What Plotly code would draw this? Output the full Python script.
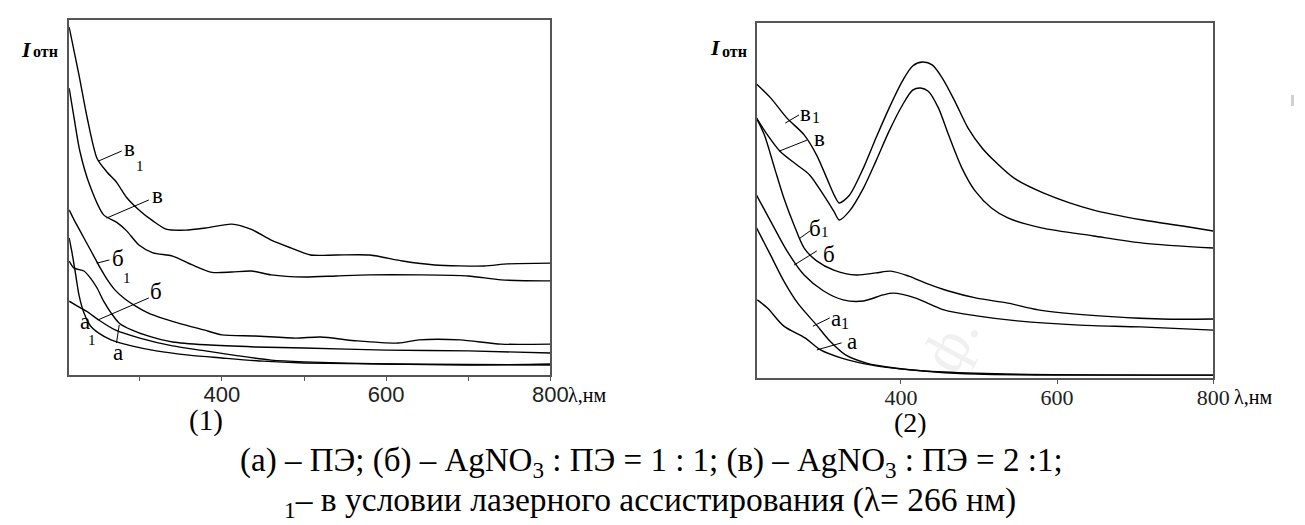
import plotly.graph_objects as go

# ---------------- Panel (1) : wavelength (nm) / relative intensity ----------------
L_v1_wl = [214, 226, 236, 248, 260, 272, 284, 299, 316, 332, 356, 380, 412, 436, 460, 484, 508, 539, 580, 620, 659, 719, 748, 800]
L_v1_I = [98.0, 84.5, 72.4, 61.0, 57.2, 54.2, 50.0, 46.5, 43.4, 41.1, 40.8, 41.4, 42.5, 41.0, 38.0, 35.8, 33.8, 33.8, 33.8, 32.1, 31.0, 30.7, 31.3, 31.5]

L_v_wl = [214, 220, 227, 239, 256, 272, 284, 299, 316, 340, 364, 388, 412, 436, 460, 500, 539, 580, 640, 700, 740, 800]
L_v_I = [80.8, 72.4, 63.1, 53.5, 45.1, 43.0, 40.6, 36.6, 34.4, 33.5, 31.0, 28.9, 29.0, 29.3, 28.2, 27.6, 27.9, 28.2, 28.2, 27.9, 26.8, 26.5]

L_b1_wl = [214, 220, 228, 236, 244, 252, 260, 270, 282, 295, 310, 330, 350, 378, 400, 440, 490, 520, 565, 615, 640, 690, 740, 800]
L_b1_I = [46.5, 43.7, 40.3, 36.9, 33.5, 30.1, 27.0, 23.9, 21.4, 19.4, 17.5, 15.8, 14.4, 12.7, 11.3, 11.0, 10.4, 10.7, 9.6, 9.0, 9.9, 9.9, 8.7, 8.7]

L_b_wl = [214, 220, 232, 240, 248, 256, 265, 275, 290, 310, 340, 380, 440, 500, 600, 700, 800]
L_b_I = [32.1, 30.1, 29.3, 27.3, 24.5, 20.8, 17.5, 14.6, 12.7, 11.0, 9.3, 8.5, 7.9, 7.6, 7.0, 6.8, 6.2]

L_a1_wl = [214, 218, 222, 226, 232, 240, 250, 265, 290, 320, 360, 400, 450, 500, 600, 800]
L_a1_I = [38.6, 33.8, 28.2, 22.5, 17.5, 13.8, 11.8, 9.9, 8.2, 6.8, 5.6, 4.8, 3.9, 3.4, 3.1, 2.8]

L_a_wl = [214, 222, 235, 250, 270, 300, 340, 380, 420, 460, 500, 600, 700, 800]
L_a_I = [20.8, 19.7, 18.0, 15.5, 12.7, 10.4, 8.2, 6.8, 5.4, 4.2, 3.7, 3.1, 2.8, 3.1]

# ---------------- Panel (2) ----------------
R_v1_wl = [215, 233, 254, 276, 292, 305, 315, 321, 334, 352, 368, 385, 402, 415, 428, 440, 453, 469, 486, 504, 520, 545, 583, 647, 710, 761, 800]
R_v1_I = [82.8, 78.9, 73.2, 68.5, 62.8, 56.3, 51.3, 49.3, 51.5, 59.2, 67.6, 76.1, 83.7, 87.9, 89.0, 88.2, 84.5, 78.0, 70.4, 64.8, 61.1, 56.3, 52.1, 47.3, 44.5, 42.8, 41.4]

R_v_wl = [215, 229, 245, 267, 283, 301, 314, 321, 334, 352, 368, 385, 402, 415, 425, 435, 448, 461, 478, 495, 516, 537, 580, 647, 710, 800]
R_v_I = [73.2, 68.5, 63.9, 60.0, 57.2, 51.5, 47.0, 44.5, 47.0, 53.5, 61.1, 69.6, 76.9, 81.1, 81.7, 80.8, 76.1, 68.5, 59.2, 52.7, 47.9, 45.1, 42.3, 40.0, 38.0, 36.6]

R_b1_wl = [215, 225, 238, 250, 263, 276, 292, 314, 343, 368, 387, 410, 431, 461, 497, 537, 576, 654, 734, 800]
R_b1_I = [73.2, 68.5, 59.2, 50.7, 43.1, 36.6, 33.0, 30.4, 29.0, 29.6, 30.1, 28.7, 26.8, 24.5, 22.5, 21.1, 19.2, 17.5, 16.6, 16.6]

R_b_wl = [215, 233, 254, 276, 301, 326, 352, 377, 390, 419, 455, 497, 549, 629, 707, 800]
R_b_I = [51.5, 44.2, 35.8, 29.0, 24.5, 22.0, 21.7, 23.4, 23.9, 22.5, 19.2, 17.5, 16.1, 14.9, 14.4, 13.5]

R_a1_wl = [215, 233, 250, 268, 292, 309, 329, 356, 392, 444, 497, 602, 800]
R_a1_I = [42.3, 34.6, 27.3, 21.0, 14.9, 10.4, 6.5, 4.2, 2.8, 1.7, 1.1, 0.8, 0.8]

R_a_wl = [216, 229, 250, 277, 297, 324, 361, 402, 455, 549, 800]
R_a_I = [22.0, 19.7, 14.6, 11.3, 7.9, 5.6, 3.7, 2.5, 1.7, 1.1, 0.8]

L_tickvals = [400, 600, 800]
L_ticktext = ["400", "600", "800"]
L_minor_tickvals = [300, 500, 700]
R_tickvals = [400, 600, 800]
R_ticktext = ["400", "600", "800"]

W, H = 1305, 525
fig = go.Figure()

line_style = dict(color="black", width=1.4)
for wl, I in [(L_v1_wl, L_v1_I), (L_v_wl, L_v_I), (L_b1_wl, L_b1_I),
              (L_b_wl, L_b_I), (L_a1_wl, L_a1_I), (L_a_wl, L_a_I)]:
    fig.add_trace(go.Scatter(x=wl, y=I, mode="lines", line=dict(shape="spline", smoothing=0.7, **line_style),
                             xaxis="x", yaxis="y", showlegend=False, hoverinfo="skip"))
for wl, I in [(R_v1_wl, R_v1_I), (R_v_wl, R_v_I), (R_b1_wl, R_b1_I),
              (R_b_wl, R_b_I), (R_a1_wl, R_a1_I), (R_a_wl, R_a_I)]:
    fig.add_trace(go.Scatter(x=wl, y=I, mode="lines", line=dict(shape="spline", smoothing=0.8, **line_style),
                             xaxis="x2", yaxis="y2", showlegend=False, hoverinfo="skip"))

axcol = "#555555"
common_x = dict(showline=True, mirror=True, linecolor=axcol, linewidth=1.6, ticks="outside",
                ticklen=4, tickcolor=axcol, tickwidth=1, showgrid=False, zeroline=False,
                ticklabelstandoff=-5)
common_y = dict(showline=True, mirror=True, linecolor=axcol, linewidth=1.6, ticks="",
                showticklabels=False, showgrid=False, zeroline=False, range=[0, 100])

fig.update_layout(
    width=W, height=H,
    margin=dict(l=0, r=0, t=0, b=0),
    paper_bgcolor="white", plot_bgcolor="white",
    xaxis=dict(domain=[62 / W, 550 / W], range=[214, 800], anchor="y",
               tickmode="array", tickvals=L_tickvals, ticktext=L_ticktext,
               minor=dict(tickmode="array", tickvals=L_minor_tickvals, ticks="outside",
                          ticklen=4, tickcolor=axcol, tickwidth=1, showgrid=False),
               tickfont=dict(family="Liberation Sans Narrow, Liberation Sans", size=22, color="#222"),
               **common_x),
    yaxis=dict(domain=[1 - 367 / H, 1 - 12 / H], anchor="x", **common_y),
    xaxis2=dict(domain=[759 / W, 1222 / W], range=[215, 800], anchor="y2",
                tickmode="array", tickvals=R_tickvals, ticktext=R_ticktext,
                tickfont=dict(family="Liberation Serif", size=22, color="#222"),
                **common_x),
    yaxis2=dict(domain=[1 - 370 / H, 1 - 15 / H], anchor="x2", **common_y),
)

serif = "Liberation Serif"
ann = []
shapes = []

def ptext(text, px, py, size, xanchor="left", family=serif, color="black", angle=0):
    ann.append(dict(text=text, x=px / W, y=1 - py / H, xref="paper", yref="paper", showarrow=False,
                    font=dict(family=family, size=size, color=color), textangle=angle,
                    xanchor=xanchor, yanchor="middle"))

# faint watermark (kept clear of the other texts)
ptext("ф.", 955, 335, 60, "center", color="#f0f0f0", angle=-62)

def lab(text, x, y, ax, size=23):
    xr, yr = ("x", "y") if ax == 1 else ("x2", "y2")
    ann.append(dict(text=text, x=x, y=y, xref=xr, yref=yr, showarrow=False,
                    font=dict(family=serif, size=size, color="black"),
                    xanchor="center", yanchor="middle"))

def leader(x0, y0, x1, y1, ax):
    xr, yr = ("x", "y") if ax == 1 else ("x2", "y2")
    shapes.append(dict(type="line", x0=x0, y0=y0, x1=x1, y1=y1, xref=xr, yref=yr,
                       line=dict(color="black", width=1)))

# Panel 1 labels
lab("в", 288, 63.9, 1); lab("1", 300, 59.0, 1, 15); leader(250, 60.3, 278, 63.1, 1)
lab("в", 321, 50.6, 1); leader(259.6, 44.2, 311, 49.3, 1)
lab("б", 273, 32.8, 1); lab("1", 284, 27.4, 1, 15); leader(247.6, 31.5, 263, 32.4, 1)
lab("б", 320, 23.5, 1); leader(311, 21.7, 249, 15.5, 1)
lab("а", 233, 15.1, 1); lab("1", 242, 9.8, 1, 15)
lab("а", 273, 6.3, 1); leader(271.6, 9.0, 275, 14.1, 1)

# Panel 2 labels
lab("в", 278.3, 74.6, 2); lab("1", 291.6, 73.5, 2, 16); leader(251.7, 71.8, 269.4, 74.1, 2)
lab("в", 295.4, 67.6, 2); leader(244, 63.9, 279.6, 67.0, 2)
lab("б", 290.3, 42.2, 2); lab("1", 303, 41.2, 2, 15); leader(270.7, 39.4, 283.4, 41.4, 2)
lab("б", 307.5, 34.8, 2); leader(263, 31.8, 292.2, 35.8, 2)
lab("а", 316.3, 16.9, 2); lab("1", 327.7, 15.4, 2, 16); leader(287.2, 14.6, 308.7, 16.9, 2)
lab("а", 337.2, 10.3, 2); leader(292.2, 7.9, 323.9, 9.9, 2)

# y-axis titles
ptext("<b><i>I</i></b>", 11, 41, 22)
ptext("<b>отн</b>", 23, 44, 16)
ptext("<b><i>I</i></b>", 710, 40, 22)
ptext("<b>отн</b>", 722, 43, 16)

# x-axis unit labels
ptext("λ,нм", 566, 387, 20)
ptext("λ,нм", 1241, 389, 20)

# panel numbers
ptext("(1)", 201, 412, 29, "center")
ptext("(2)", 915, 414, 28, "center")

# caption
ptext("(а) – ПЭ; (б) – AgNO<sub>3</sub> : ПЭ = 1 : 1; (в) – AgNO<sub>3</sub> : ПЭ = 2 :1;", 652, 454, 33, "center")
ptext("<sub>1</sub>– в условии лазерного ассистирования (λ= 266 нм)", 651, 494, 33.5, "center")

# small grey mark at the right edge of the page
shapes.append(dict(type="rect", x0=1301 / W, x1=1304 / W, y0=1 - 98 / H, y1=1 - 87 / H,
                   xref="paper", yref="paper", fillcolor="#d0d0d0", line=dict(width=0)))

fig.update_layout(annotations=ann, shapes=shapes)
fig.write_html("out.html")
